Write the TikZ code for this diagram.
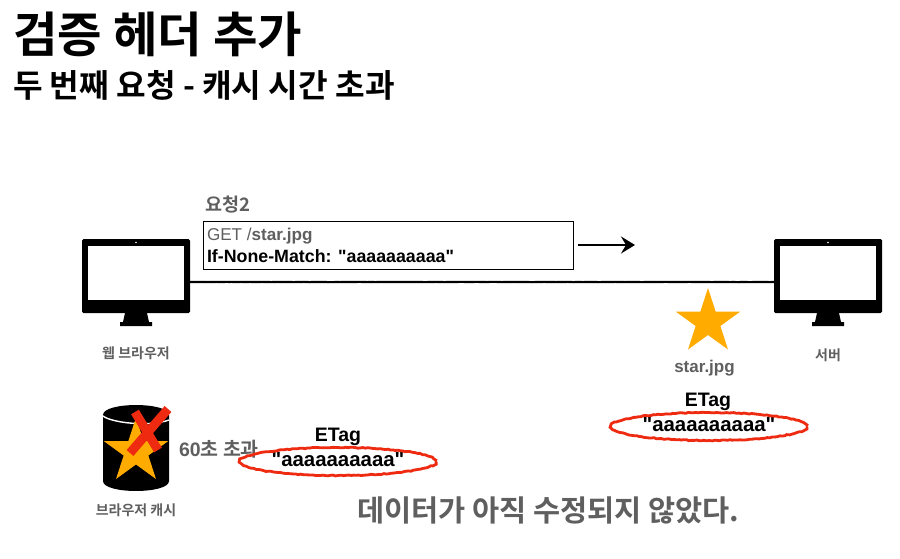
\documentclass[tikz,border=0pt]{standalone}
\usepackage{fontspec}
\usetikzlibrary{shapes.geometric,arrows.meta,decorations.pathmorphing}
\setmainfont{Liberation Sans}[Ligatures=TeXOff]
\newfontfamily\ko{Noto Sans CJK KR}[BoldFont={Noto Sans CJK KR Bold}]
\definecolor{graytxt}{HTML}{5F5F5F}
\definecolor{starcol}{HTML}{FFAB00}
\definecolor{redcol}{HTML}{EE2A10}
\tikzset{
  x=1pt,y=-1pt,
  every node/.style={inner sep=0,outer sep=0},
  monitorbody/.style={rectangle,fill=black,rounded corners=1.5pt,minimum width=108pt,minimum height=74pt},
  monitorscreen/.style={rectangle,fill=white,minimum width=96pt,minimum height=54pt},
  bigstar/.style={star,star points=5,star point ratio=2.618,fill=starcol,minimum size=68pt},
  redring/.style={draw=redcol,line width=2.8pt,decorate,decoration={random steps,segment length=2.5pt,amplitude=.45pt}},
  roughline/.style={draw=black,line width=2.2pt,decorate,decoration={random steps,segment length=3pt,amplitude=.15pt}},
  caption/.style={text=graytxt,font=\ko\bfseries\fontsize{14}{16}\selectfont},
  etagtxt/.style={text=black,font=\bfseries\fontsize{19.5}{22}\selectfont},
  valtxt/.style={text=black,font=\bfseries\fontsize{20.4}{23}\selectfont},
}
\newcommand{\monitor}[3]{%
  \fill (#2-11,313) -- (#2+11,313) -- (#2+13,322) -- (#2+16,322) -- (#2+16,326) -- (#2-16,326) -- (#2-16,322) -- (#2-13,322) -- cycle;
  \node[monitorbody] (#1) at (#2,276) {};
  \node[monitorscreen] (#1screen) at (#2,273) {};
  \fill[white] (#2,242.5) circle (.8);
}
\begin{document}
\begin{tikzpicture}
\useasboundingbox (0,0) rectangle (900,558);
\fill[white] (0,0) rectangle (900,558);
% titles
\node[anchor=west,font=\ko\bfseries\fontsize{48.4}{52}\selectfont] (title) at (13,34) {검증 헤더 추가};
\node[anchor=west,font=\ko\bfseries\fontsize{32.2}{36}\selectfont] (subtitle) at (13,85) {두 번째 요청 - 캐시 시간 초과};
% request
\node[anchor=west,text=graytxt,font=\ko\bfseries\fontsize{18.5}{22}\selectfont] (reqlabel) at (205,205) {요청2};
\node[rectangle,draw=black,line width=1pt,minimum width=370pt,minimum height=48pt] (req) at (388.7,245) {};
\node[anchor=west,text=graytxt,font=\fontsize{17.1}{19}\selectfont] (reqline1) at (207,236) {GET /\textbf{star.jpg}};
\node[anchor=west,text=black,font=\bfseries\fontsize{17.8}{20}\selectfont] (reqline2) at (207,256.5) {If-None-Match: "aaaaaaaaaa"};
\coordinate (arrowend) at (635,245);
\draw[black,line width=2pt,-{Stealth[length=14pt,width=17pt,inset=5pt]}] ([xshift=4pt]req.east) -- (arrowend);
% monitors
\monitor{browser}{136}{}
\monitor{server}{828}{}
\path[roughline] ([yshift=-6pt]browser.east) -- ([yshift=-6pt]server.west);
\node[caption] (browserlabel) at (136,353) {웹 브라우저};
\node[caption] (serverlabel) at (828,355) {서버};
% server star
\node[bigstar] (serverstar) at (708,322) {};
\node[text=graytxt,font=\bfseries\fontsize{17}{19}\selectfont] (starname) at (704.5,368) {star.jpg};
\node[etagtxt] (etagR) at (708,402) {ETag};
\node[valtxt] (valR) at (709,425) {"aaaaaaaaaa"};
\path[redring] (709,426.5) ellipse [x radius=98,y radius=14];
% cache
\fill[black] (103,415) .. controls (103,401.7) and (169,401.7) .. (169,415) -- (169,481) .. controls (169,494.3) and (103,494.3) .. (103,481) -- cycle;
\draw[white,line width=1.4pt] (103,416) .. controls (112,423) and (150,427) .. (169,420);
\node[bigstar] (cachestar) at (136,451.5) {};
\draw[redcol,line width=9pt] (168,409) -- (130,453);
\draw[redcol,line width=9pt] (135,412) -- (158,450);
\node[caption] (cachelabel) at (136,510) {브라우저 캐시};
\node[anchor=west,text=graytxt,font=\bfseries\fontsize{19.5}{22}\selectfont] (elapsed) at (179,449) {60{\ko 초 초과}};
\node[etagtxt] (etagL) at (338,437) {ETag};
\node[valtxt] (valL) at (338,459.5) {"aaaaaaaaaa"};
\path[redring] (338,461.5) ellipse [x radius=98,y radius=14];
\node[anchor=west,text=graytxt,font=\ko\bfseries\fontsize{29.5}{33}\selectfont] (note) at (357,510) {데이터가 아직 수정되지 않았다.};
\end{tikzpicture}
\end{document}
